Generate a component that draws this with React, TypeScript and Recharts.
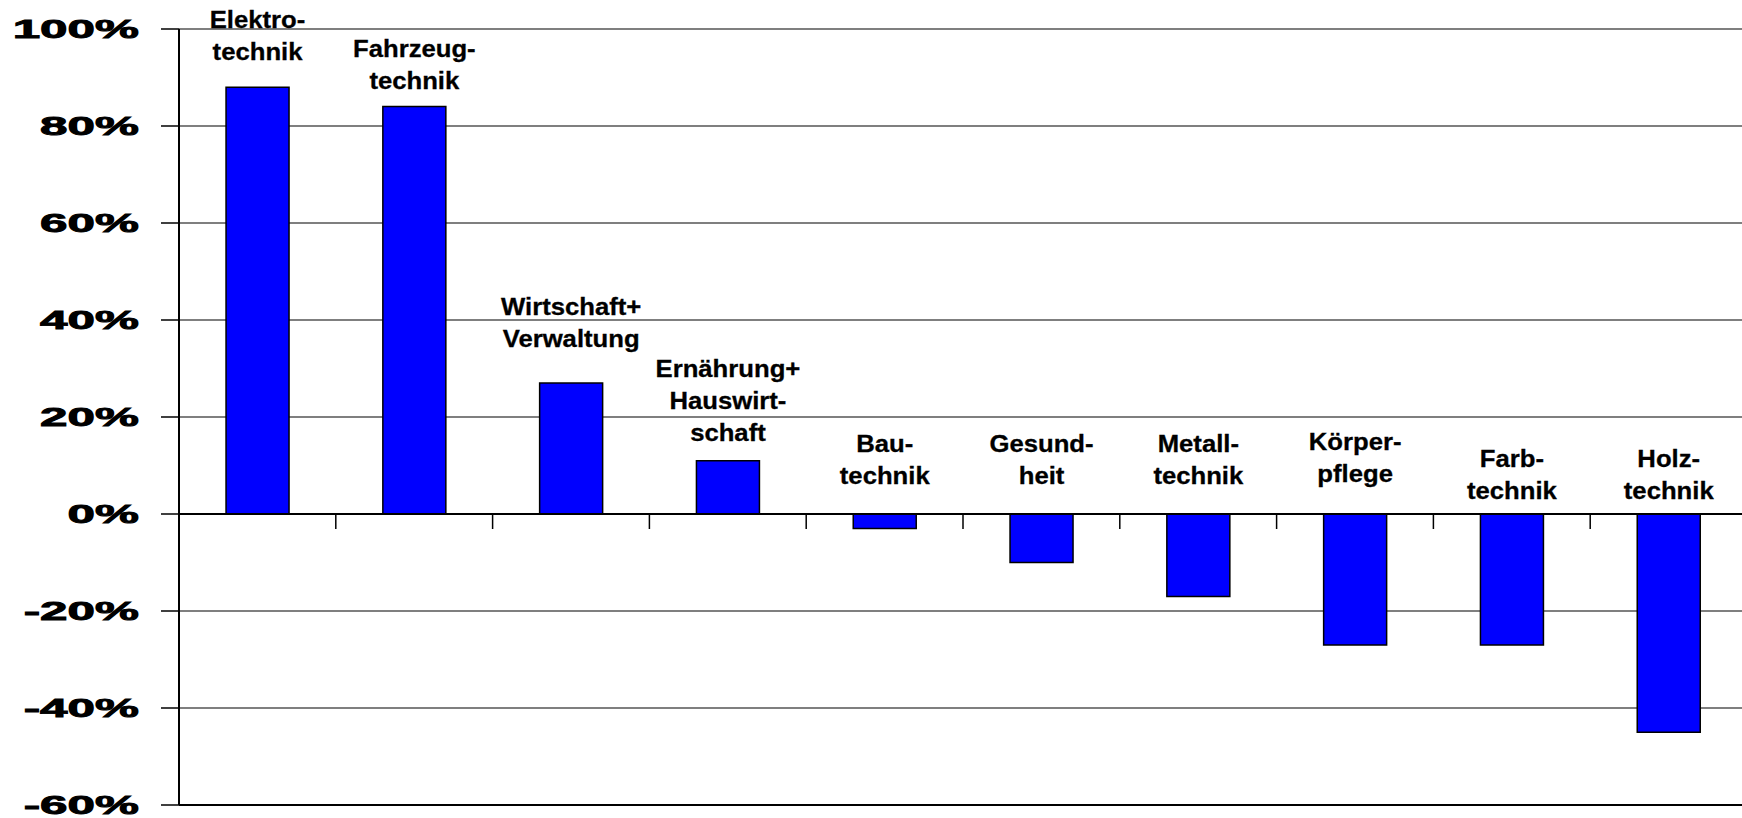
import { BarChart, Bar, XAxis, YAxis, CartesianGrid, ReferenceLine, LabelList } from 'recharts'

const categories = [
  'Elektro-\ntechnik',
  'Fahrzeug-\ntechnik',
  'Wirtschaft+\nVerwaltung',
  'Ernährung+\nHauswirt-\nschaft',
  'Bau-\ntechnik',
  'Gesund-\nheit',
  'Metall-\ntechnik',
  'Körper-\npflege',
  'Farb-\ntechnik',
  'Holz-\ntechnik',
]
const values = [88, 84, 27, 11, -3, -10, -17, -27, -27, -45]
const yTicks = [-60, -40, -20, 0, 20, 40, 60, 80, 100]

// how far (px) the last label line sits above the bar top / zero line
const labelLift = [27, 18, 36, 20, 30, 30, 30, 32, 15, 15]

const data = categories.map((name, i) => ({ name, value: values[i] }))

const FONT = '"Liberation Sans", Arial, sans-serif'

function YTick({ x, y, payload }: any) {
  return (
    <text
      transform={`translate(${x},${y + 9}) scale(1.9,1)`}
      textAnchor="end"
      fontFamily={FONT}
      fontWeight="bold"
      fontSize={26}
      fill="#000"
      stroke="#000"
      strokeWidth={0.9}
    >
      {payload.value}%
    </text>
  )
}

function CategoryLabel({ x, y, width, height, index }: any) {
  const lines = categories[index].split('\n')
  const top = Math.min(y, y + height)
  const cx = x + width / 2
  const lineGap = 32
  const lastBase = top - labelLift[index]
  return (
    <g>
      {lines.map((line, i) => (
        <text
          key={i}
          transform={`translate(${cx},${lastBase - (lines.length - 1 - i) * lineGap}) scale(1.07,1)`}
          textAnchor="middle"
          fontFamily={FONT}
          fontWeight="bold"
          fontSize={24}
          fill="#000"
          stroke="#000"
          strokeWidth={0.3}
        >
          {line}
        </text>
      ))}
    </g>
  )
}

function ZeroTicks(props: any) {
  const vb = props.viewBox
  if (!vb) return null
  const step = vb.width / categories.length
  return (
    <g>
      {categories.slice(1).map((_, i) => {
        const tx = vb.x + step * (i + 1)
        return <line key={i} x1={tx} x2={tx} y1={vb.y} y2={vb.y + 15} stroke="#000" strokeWidth={1.5} />
      })}
    </g>
  )
}

export default function App() {
  return (
    <div style={{ position: 'absolute', left: 0, top: 0, width: 1742, height: 818, overflow: 'hidden', background: '#fff' }}>
      <BarChart
        width={1760}
        height={818}
        data={data}
        margin={{ top: 29, right: 13, bottom: 13, left: 0 }}
        barCategoryGap="30%"
      >
        <CartesianGrid vertical={false} stroke="#000" strokeWidth={1.2} />
        <XAxis dataKey="name" hide />
        <YAxis
          width={179}
          domain={[-60, 100]}
          ticks={yTicks}
          interval={0}
          tickSize={18}
          tickMargin={22}
          axisLine={{ stroke: '#000', strokeWidth: 2 }}
          tickLine={{ stroke: '#000', strokeWidth: 1.5 }}
          tick={<YTick />}
        />
        <ReferenceLine y={-60} stroke="#000" strokeWidth={2} />
        <Bar dataKey="value" fill="#0000ff" stroke="#000" strokeWidth={1.5} isAnimationActive={false}>
          <LabelList dataKey="value" content={<CategoryLabel />} />
        </Bar>
        <ReferenceLine y={0} stroke="#000" strokeWidth={2} label={<ZeroTicks />} />
      </BarChart>
    </div>
  )
}
